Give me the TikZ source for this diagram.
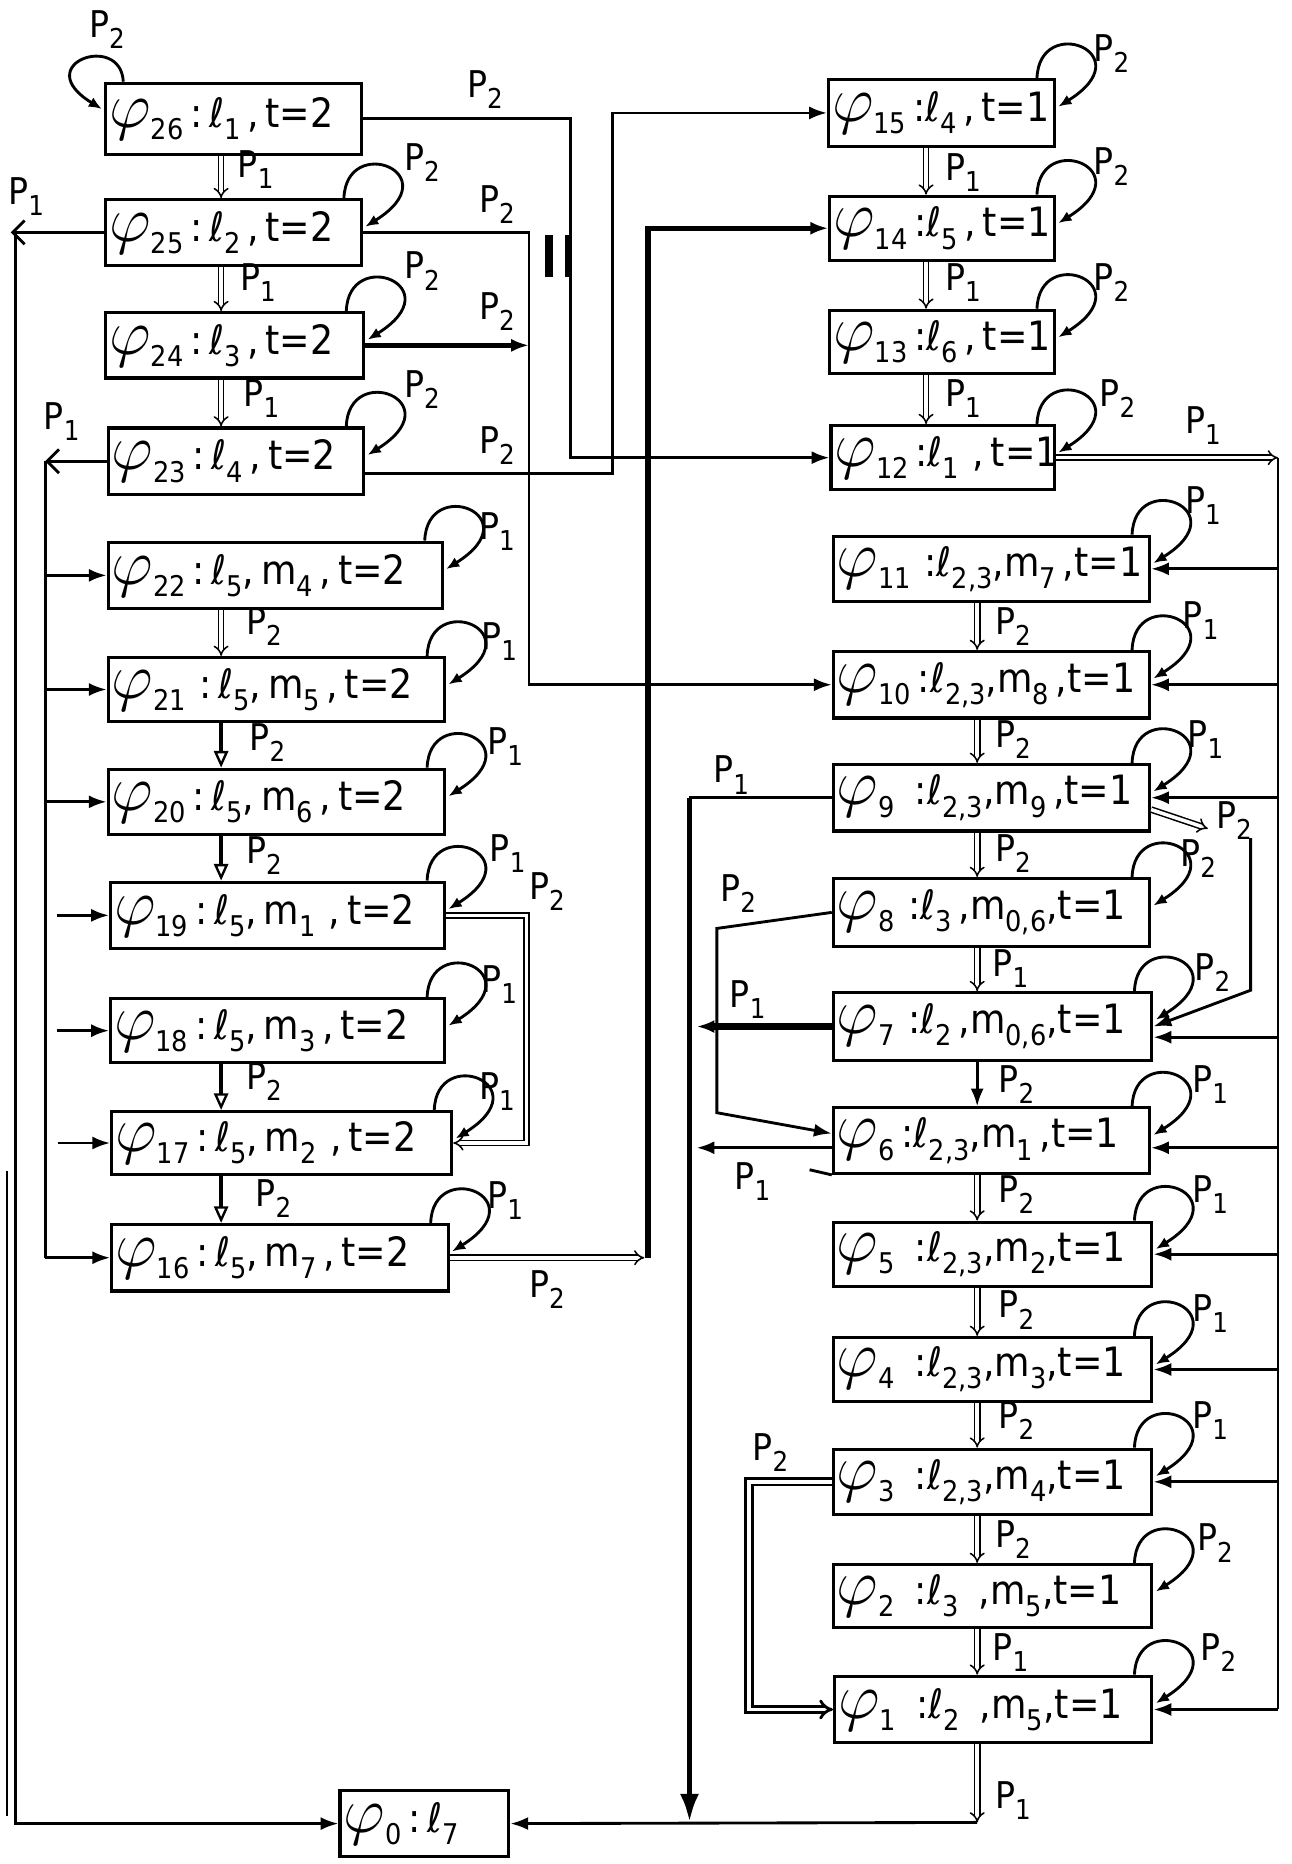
\RequirePackage{fix-cm}
\documentclass[tikz,border=0pt]{standalone}
\usepackage{graphicx}
\usepackage{fontspec}
\setmainfont{DejaVu Sans}[FakeStretch=0.9]
\usetikzlibrary{arrows.meta}
\newcommand\sbs[1]{\raisebox{-0.3em}{\fontsize{24}{24}\selectfont #1}}
\newcommand\sbl[1]{\raisebox{-0.3em}{\fontsize{23}{23}\selectfont #1}}
\newcommand\Pa[1]{P\sbl{#1}}
\newcommand\vph{\scalebox{1.6}{$\varphi$}}
\newcommand\bxn[6]{%
  \pgfmathsetmacro\bxw{#4-8}%
  \pgfmathsetmacro\bxcx{#2+#4/2}%
  \pgfmathsetmacro\bxcy{#3+#5/2}%
  \node[bx, text width=\bxw pt, minimum height=#5pt] (#1) at (\bxcx,\bxcy) {#6};}
\newcommand\lb[4]{\node[lbl] (#1) at (#2,#3) {\Pa{#4}};}
\newcommand\loopR[1]{\draw[lp] ([xshift=-16pt]#1.north east) .. controls +(2,-55) and +(72,-45) .. ([xshift=2pt,yshift=-24pt]#1.north east);}
\begin{document}
\begin{tikzpicture}[x=1pt,y=-1pt,
  bx/.style={draw, line width=2.6pt, inner xsep=3pt, inner ysep=0pt, align=left, font=\fontsize{34}{38}\selectfont},
  lbl/.style={inner sep=0pt, font=\fontsize{31}{33}\selectfont},
  cn/.style={line width=2.4pt},
  cnthick/.style={line width=4.5pt},
  lp/.style={line width=2.4pt, -{Latex[length=11pt,width=9pt]}},
  dbl/.style={double, double distance=3pt, line width=1.3pt, -{Implies}},
  dblthick/.style={double, double distance=3pt, line width=2.4pt, -{Implies}},
  arr/.style={-{Latex[length=15pt,width=11pt]}},
  barb/.style={-{Straight Barb[length=10pt,width=20pt,line width=2.4pt]}},
  sgl/.style={line width=3.2pt, -{Triangle[open,length=14pt,width=12pt,line width=2pt]}}
]
\useasboundingbox (0,0) rectangle (1086,1568);

% ---------- boxes, left column
\bxn{n26}{88}{70}{217}{60}{\vph\sbs{26}\,:\,ℓ\sbs{1}\,,\,t=2}
\bxn{n25}{88}{168}{217}{55}{\vph\sbs{25}\,:\,ℓ\sbs{2}\,,\,t=2}
\bxn{n24}{88}{263}{219}{55}{\vph\sbs{24}\,:\,ℓ\sbs{3}\,,\,t=2}
\bxn{n23}{90}{360}{217}{56}{\vph\sbs{23}\,:\,ℓ\sbs{4}\,,\,t=2}
\bxn{n22}{90}{456}{283}{56}{\vph\sbs{22}\,:\,ℓ\sbs{5},\,m\sbs{4}\,,\,t=2}
\bxn{n21}{90}{553}{285}{54}{\vph\sbs{21}\,\,:\,ℓ\sbs{5},\,m\sbs{5}\,,\,t=2}
\bxn{n20}{90}{647}{285}{55}{\vph\sbs{20}\,:\,ℓ\sbs{5},\,m\sbs{6}\,,\,t=2}
\bxn{n19}{92}{742}{283}{56}{\vph\sbs{19}\,:\,ℓ\sbs{5},\,m\sbs{1}\,\,,\,t=2}
\bxn{n18}{92}{840}{283}{54}{\vph\sbs{18}\,:\,ℓ\sbs{5},\,m\sbs{3}\,,\,t=2}
\bxn{n17}{93}{935}{288}{53}{\vph\sbs{17}\,:\,ℓ\sbs{5},\,m\sbs{2}\,\,,\,t=2}
\bxn{n16}{93}{1030}{285}{56}{\vph\sbs{16}\,:\,ℓ\sbs{5},\,m\sbs{7}\,,\,t=2}
% ---------- boxes, right column
\bxn{n15}{696}{67}{192}{56}{\vph\sbs{15}\,:ℓ\sbs{4}\,,\,t=1}
\bxn{n14}{697}{165}{191}{54}{\vph\sbs{14}\,:ℓ\sbs{5}\,,\,t=1}
\bxn{n13}{697}{261}{191}{53}{\vph\sbs{13}\,:ℓ\sbs{6}\,,\,t=1}
\bxn{n12}{698}{358}{190}{54}{\vph\sbs{12}\,:ℓ\sbs{1}\,\,,\,t=1}
\bxn{n11}{700}{451}{268}{55}{\vph\sbs{11}\,\,:ℓ\sbs{2,3},m\sbs{7}\,,t=1}
\bxn{n10}{700}{548}{268}{56}{\vph\sbs{10}\,:ℓ\sbs{2,3},m\sbs{8}\,,t=1}
\bxn{n9}{700}{643}{268}{56}{\vph\sbs{9}\,\,\,:ℓ\sbs{2,3},m\sbs{9}\,,t=1}
\bxn{n8}{700}{739}{268}{57}{\vph\sbs{8}\,\,:ℓ\sbs{3}\,,m\sbs{0,6},t=1}
\bxn{n7}{700}{835}{270}{57}{\vph\sbs{7}\,\,:ℓ\sbs{2}\,,m\sbs{0,6},t=1}
\bxn{n6}{700}{932}{268}{55}{\vph\sbs{6}\,:ℓ\sbs{2,3},m\sbs{1}\,,t=1}
\bxn{n5}{700}{1028}{270}{54}{\vph\sbs{5}\,\,\,:ℓ\sbs{2,3},m\sbs{2},t=1}
\bxn{n4}{700}{1125}{270}{54}{\vph\sbs{4}\,\,\,:ℓ\sbs{2,3},m\sbs{3},t=1}
\bxn{n3}{700}{1219}{270}{55}{\vph\sbs{3}\,\,\,:ℓ\sbs{2,3},m\sbs{4},t=1}
\bxn{n2}{700}{1316}{270}{53}{\vph\sbs{2}\,\,\,:ℓ\sbs{3}\,\,\,,m\sbs{5},t=1}
\bxn{n1}{701}{1410}{269}{56}{\vph\sbs{1}\,\,\,:ℓ\sbs{2}\,\,\,,m\sbs{5},t=1}
\bxn{n0}{285}{1506}{144}{56}{\vph\sbs{0}\,:\,ℓ\sbs{7}}

% ---------- helper coordinates
\coordinate (vA) at (480,0);
\coordinate (vB) at (515,0);
\coordinate (vC) at (445,0);
\coordinate (vD) at (545,0);
\coordinate (vL0) at (9,0);
\coordinate (vL1) at (13,0);
\coordinate (vL2) at (38,0);
\coordinate (vR) at (1075,0);
\coordinate (vE) at (580,0);
\coordinate (vE2) at (586,0);
\coordinate (vF) at (603,0);
\coordinate (vG) at (630,0);
\coordinate (vH) at (443,0);
\coordinate (cL) at (186,0);
\coordinate (cR1) at (779,0);
\coordinate (cR2) at (822,0);
\coordinate (B1) at (822,1533);
\coordinate (T9) at (1016,697);
\coordinate (J9) at (1052,705);

% ---------- self loops
\draw[lp] ([xshift=16pt]n26.north west) .. controls +(-2,-42) and +(-62,-38) .. ([xshift=-2pt,yshift=-23pt]n26.north west);
\foreach \n in {n25,n24,n23,n22,n21,n20,n19,n18,n17,n16,n15,n14,n13,n12,n11,n10,n9,n8,n7,n6,n5,n4,n3,n2,n1} {\loopR{\n}}

% ---------- column arrows
\draw[dbl] (cL |- n26.south) -- (cL |- n25.north);
\draw[dbl] (cL |- n25.south) -- (cL |- n24.north);
\draw[dbl] (cL |- n24.south) -- (cL |- n23.north);
\draw[dbl] (cL |- n22.south) -- (cL |- n21.north);
\draw[sgl] (cL |- n21.south) -- (cL |- n20.north);
\draw[sgl] (cL |- n20.south) -- (cL |- n19.north);
\draw[sgl] (cL |- n18.south) -- (cL |- n17.north);
\draw[sgl] (cL |- n17.south) -- (cL |- n16.north);
\draw[dbl] (cR1 |- n15.south) -- (cR1 |- n14.north);
\draw[dbl] (cR1 |- n14.south) -- (cR1 |- n13.north);
\draw[dbl] (cR1 |- n13.south) -- (cR1 |- n12.north);
\draw[dbl] (cR2 |- n11.south) -- (cR2 |- n10.north);
\draw[dbl] (cR2 |- n10.south) -- (cR2 |- n9.north);
\draw[dbl] (cR2 |- n9.south) -- (cR2 |- n8.north);
\draw[dbl] (cR2 |- n8.south) -- (cR2 |- n7.north);
\draw[cn,arr] (cR2 |- n7.south) -- (cR2 |- n6.north);
\draw[dbl] (cR2 |- n6.south) -- (cR2 |- n5.north);
\draw[dbl] (cR2 |- n5.south) -- (cR2 |- n4.north);
\draw[dbl] (cR2 |- n4.south) -- (cR2 |- n3.north);
\draw[dbl] (cR2 |- n3.south) -- (cR2 |- n2.north);
\draw[dbl] (cR2 |- n2.south) -- (cR2 |- n1.north);
\draw[dbl] (cR2 |- n1.south) -- (B1);

% ---------- long connectors, left half
\draw[cn,arr] (n26.east) -| (vA |- n12.west) -- (n12.west);
\draw[cn,arr] ([yshift=-10pt]n23.east) -| (vB |- n15.west) -- (n15.west);
\draw[cn,arr] (n25.east) -| (vC |- n10.west) -- (n10.west);
\draw[cnthick,arr] (n24.east) -- (vC |- n24.east);
\draw[line width=7pt] (462,198) -- (462,233);
\draw[line width=6pt] (478,198) -- (478,233);
\draw[cn,barb] (n25.west) -- (vL0 |- n25.west);
\draw[cn,arr] (vL1 |- n25.west) |- (n0.west);
\draw[line width=2pt] (6,985) -- (6,1528);
\draw[cn,barb] (n23.west) -- (vL2 |- n23.west);
\draw[cn] (vL2 |- n23.west) -- (vL2 |- n16.west);
\foreach \n in {n22,n21,n20,n16} {\draw[cn,arr] (vL2 |- \n.west) -- (\n.west);}
\foreach \n in {n19,n18,n17} {\draw[cn,arr] ([xshift=-44pt]\n.west) -- (\n.west);}
\draw[dbl] (n19.east) -| (vH |- n17.east) -- (n17.east);
\coordinate (J16) at (vD |- n16.east);
\draw[dbl] (n16.east) -- ([xshift=-3pt]J16);
\draw[cnthick,arr] (J16) |- (n14.west);

% ---------- right half
\coordinate (R12) at (vR |- n12.east);
\draw[dbl] (n12.east) -- (R12);
\draw[cn] (R12) -- (vR |- n1.east);
\foreach \n in {n11,n10,n9,n5,n4,n3,n1} {\draw[cn,arr] (vR |- \n.east) -- (\n.east);}
\coordinate (r7) at ([yshift=-9pt]n7.east);
\draw[cn,arr] (vR |- r7) -- (r7);
\coordinate (r6) at ([yshift=-6pt]n6.east);
\draw[cn,arr] (vR |- r6) -- (r6);
\draw[dbl] ([yshift=-10pt]n9.east) -- (T9);
\draw[cn,arr] (J9) -- (1052,833) -- (n7.east);
\draw[cn] (n9.west) -- (vE |- n9.west);
\draw[cnthick,-{Latex[length=24pt,width=16pt]}] (vE |- n9.west) -- (vE |- B1);
\draw[cn,arr] (B1) -- (n0.east);
\draw[cn,arr] (n8.west) -- (603,781) -- (603,936) -- ([yshift=6pt]n6.west);
\draw[line width=5.5pt,arr] (n7.west) -- (vE2 |- n7.west);
\coordinate (w6) at ([yshift=-6pt]n6.west);
\draw[cn,arr] (w6) -- (vE2 |- w6);
\draw[dblthick] (n3.west) -| (vG |- n1.west) -- (n1.west);
\draw[line width=2.4pt] (681,984) -- (n6.south west);

% ---------- labels
\lb{a1}{90}{25}{2}
\lb{a2}{355}{137}{2}
\lb{a3}{355}{228}{2}
\lb{a4}{355}{328}{2}
\lb{a5}{418}{447}{1}
\lb{a6}{420}{540}{1}
\lb{a7}{425}{628}{1}
\lb{a8}{427}{718}{1}
\lb{a9}{460}{750}{2}
\lb{a10}{420}{828}{1}
\lb{a11}{418}{918}{1}
\lb{a12}{425}{1010}{1}
\lb{a13}{935}{45}{2}
\lb{a14}{935}{140}{2}
\lb{a15}{935}{238}{2}
\lb{a16}{940}{335}{2}
\lb{a17}{1012}{425}{1}
\lb{a18}{1010}{522}{1}
\lb{a19}{1014}{622}{1}
\lb{a20}{1008}{722}{2}
\lb{a21}{1020}{818}{2}
\lb{a22}{1018}{912}{1}
\lb{a23}{1018}{1005}{1}
\lb{a24}{1018}{1105}{1}
\lb{a25}{1018}{1195}{1}
\lb{a26}{1022}{1298}{2}
\lb{a27}{1025}{1390}{2}
\lb{b1}{215}{143}{1}
\lb{b2}{217}{238}{1}
\lb{b3}{220}{335}{1}
\lb{b4}{222}{527}{2}
\lb{b5}{225}{625}{2}
\lb{b6}{222}{720}{2}
\lb{b7}{222}{910}{2}
\lb{b8}{230}{1008}{2}
\lb{b9}{810}{145}{1}
\lb{b10}{810}{238}{1}
\lb{b11}{810}{335}{1}
\lb{b12}{852}{527}{2}
\lb{b13}{852}{622}{2}
\lb{b14}{852}{718}{2}
\lb{b15}{850}{815}{1}
\lb{b16}{855}{912}{2}
\lb{b17}{855}{1005}{2}
\lb{b18}{855}{1102}{2}
\lb{b19}{855}{1195}{2}
\lb{b20}{852}{1295}{2}
\lb{b21}{850}{1390}{1}
\lb{b22}{852}{1515}{1}
\lb{c1}{408}{75}{2}
\lb{c2}{418}{172}{2}
\lb{c3}{418}{262}{2}
\lb{c4}{418}{375}{2}
\lb{c5}{22}{165}{1}
\lb{c6}{52}{355}{1}
\lb{c7}{460}{1085}{2}
\lb{c8}{1012}{358}{1}
\lb{c9}{1038}{690}{2}
\lb{c10}{615}{652}{1}
\lb{c11}{621}{752}{2}
\lb{c12}{629}{841}{1}
\lb{c13}{633}{994}{1}
\lb{c14}{648}{1222}{2}
\end{tikzpicture}
\end{document}
